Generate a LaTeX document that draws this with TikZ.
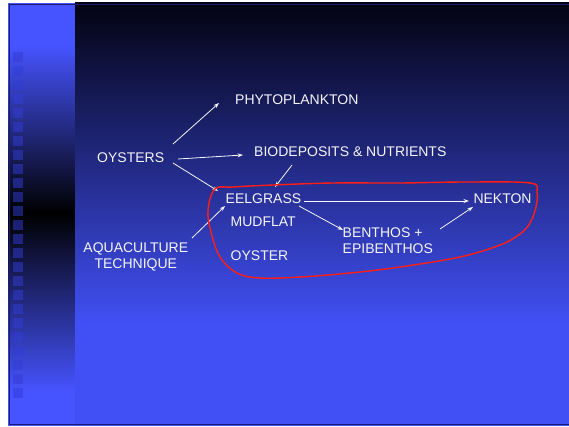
\documentclass[tikz,border=0pt]{standalone}
\usepackage{fontspec}
\setmainfont{Liberation Sans}
\usetikzlibrary{arrows.meta}
\definecolor{txt}{RGB}{245,245,250}
\definecolor{bgblue}{RGB}{65,80,245}
\definecolor{bgtop}{RGB}{3,3,18}
\definecolor{bgmid}{RGB}{30,38,140}
\definecolor{panelblue}{RGB}{70,84,255}
\definecolor{panelmid}{RGB}{45,55,185}
\definecolor{frame}{RGB}{26,26,110}
\definecolor{sq}{RGB}{50,60,215}
\definecolor{redline}{RGB}{255,30,20}
\begin{document}
\begin{tikzpicture}[x=1pt,y=-1pt,
  lbl/.style={text=txt, font=\fontsize{14}{16.5}\selectfont, inner sep=0pt, anchor=west, text height=10pt, text depth=0pt},
  ml/.style={text=txt, font=\fontsize{14}{16.5}\selectfont, inner sep=0pt},
  arr/.style={draw=txt, line width=0.8pt, -{Stealth[length=5.5pt,width=4pt]}},
  sqbox/.style={fill=sq, fill opacity=0.5},
  redloop/.style={draw=redline, line width=1.4pt}]
\useasboundingbox (0,0) rectangle (569,427);
\fill[white] (0,0) rectangle (569,427);
% slide base
\fill[panelblue] (8,3) rectangle (569,426);
% left panel
\fill[panelblue] (8,3) rectangle (75,45);
\shade[top color=panelblue, middle color=panelmid, bottom color=black] (8,45) rectangle (75,213);
\shade[top color=black, middle color=panelmid, bottom color=panelblue] (8,213) rectangle (75,392);
\fill[panelblue] (8,392) rectangle (75,426);
\foreach \i in {0,...,24}{
  \fill[sqbox] (13,{52+14*\i}) rectangle (23,{62+14*\i});
}
% main area
\shade[top color=bgtop, middle color=bgmid, bottom color=bgblue] (75,3) rectangle (569,325);
\fill[bgblue] (75,325) rectangle (569,426);
% frame
\draw[frame, line width=1pt] (9.5,4.5) rectangle (575,424.5);
% labels
\node[lbl] (phy) at (235,99.5) {PHYTOPLANKTON};
\node[lbl] (oy) at (97,158) {OYSTERS};
\node[lbl] (bio) at (254,151.3) {BIODEPOSITS \& NUTRIENTS};
\node[lbl] (eel) at (225.5,198.7) {EELGRASS};
\node[lbl] (mud) at (230.5,222) {MUDFLAT};
\node[lbl] (oys) at (230.5,255.3) {OYSTER};
\node[lbl] (nek) at (473.3,199) {NEKTON};
\node[ml, align=left, anchor=west] (ben) at (342.5,240.5) {BENTHOS +\\EPIBENTHOS};
\node[ml, align=center] (aqu) at (135.8,257) {AQUACULTURE\\TECHNIQUE};
% connector end points
\coordinate (a1s) at (173,144); \coordinate (a1e) at (219,103);
\coordinate (a2s) at (178,159); \coordinate (a2e) at (243,155);
\coordinate (a3s) at (173,163); \coordinate (a3e) at (218,191);
\coordinate (a4s) at (192,238); \coordinate (a4e) at (225,206);
\coordinate (a5s) at (292,165); \coordinate (a5e) at (275,187);
\coordinate (a6s) at (304,201); \coordinate (a6e) at (469,201);
\coordinate (a7s) at (299,206); \coordinate (a7e) at (343,230);
\coordinate (a8s) at (440,229); \coordinate (a8e) at (473,207);
\draw[arr] (a1s) -- (a1e);
\draw[arr] (a2s) -- (a2e);
\draw[arr] (a3s) -- (a3e);
\draw[arr] (a4s) -- (a4e);
\draw[arr] (a5s) -- (a5e);
\draw[arr] (a6s) -- (a6e);
\draw[arr] (a7s) -- (a7e);
\draw[arr] (a8s) -- (a8e);
% red hand-drawn loop
\draw[redloop] plot[smooth cycle, tension=0.6] coordinates {
 (215,189) (233,187) (273,185) (333,183) (400,183) (467,182) (530,183)
 (537,192) (536,207) (530,223) (520,234) (500,245) (460,257) (400,267)
 (350,273) (300,277) (260,278) (237,273) (220,257) (211,232) (208,210)};
\end{tikzpicture}
\end{document}
